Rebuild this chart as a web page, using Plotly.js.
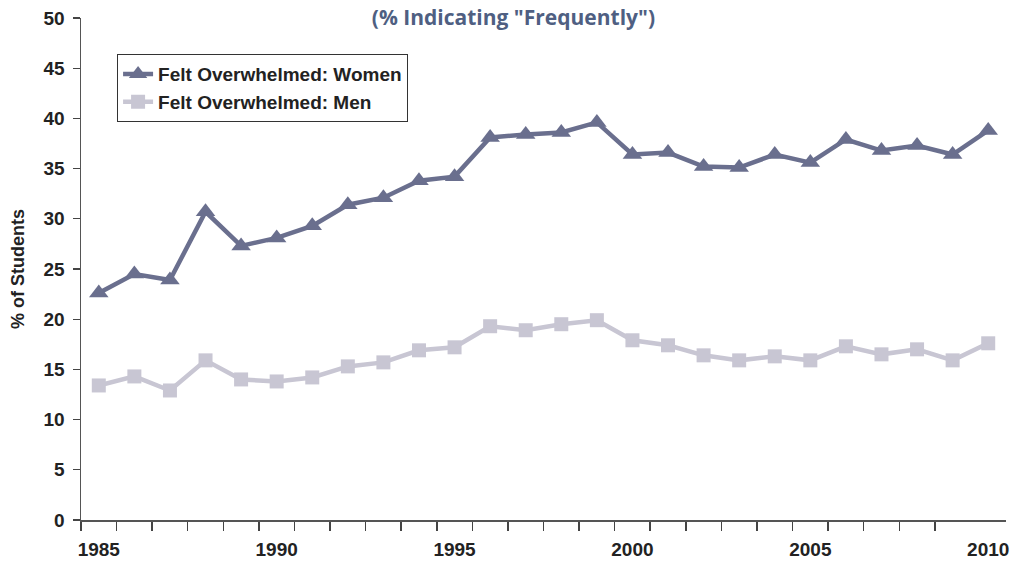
<!DOCTYPE html>
<html>
<head>
<meta charset="utf-8">
<script src="https://cdn.plot.ly/plotly-3.0.1.min.js"></script>
<style>html,body{margin:0;padding:0;background:#fff;}#chart{width:1033px;height:565px;}</style>
</head>
<body>
<div id="chart"></div>
<script>
const years = [1985,1986,1987,1988,1989,1990,1991,1992,1993,1994,1995,1996,1997,1998,1999,2000,2001,2002,2003,2004,2005,2006,2007,2008,2009,2010];
const women = [22.6,24.5,23.9,30.7,27.3,28.1,29.3,31.4,32.1,33.8,34.2,38.1,38.4,38.6,39.6,36.4,36.6,35.2,35.1,36.4,35.6,37.9,36.8,37.3,36.4,38.8];
const men = [13.4,14.3,12.9,15.9,14.0,13.8,14.2,15.3,15.7,16.9,17.2,19.3,18.9,19.5,19.9,17.9,17.4,16.4,15.9,16.3,15.9,17.3,16.5,17.0,15.9,17.6];
const xLabels = ['1985','1990','1995','2000','2005','2010'];
const yTicks = [0,5,10,15,20,25,30,35,40,45,50];
const seriesNames = ['Felt Overwhelmed: Women','Felt Overwhelmed: Men'];
const titleText = '(% Indicating "Frequently")';
const yTitle = '% of Students';

const labelVals = xLabels.map(Number);
const boundaries = years.slice(0, -1).map(y => y - 0.5);

const traces = [
  {x: years, y: women, name: seriesNames[0], type: 'scatter', mode: 'lines+markers',
   line: {color: '#6a6f8e', width: 4.5},
   marker: {symbol: 'triangle-up', size: 17, color: '#6a6f8e'}},
  {x: years, y: men, name: seriesNames[1], type: 'scatter', mode: 'lines+markers',
   line: {color: '#c8c6d3', width: 4.5},
   marker: {symbol: 'square', size: 14, color: '#c8c6d3'}}
];

const ff = 'Liberation Sans, Arial, sans-serif';
const tickFont = {family: ff, size: 19, color: '#222', weight: 'bold'};

const layout = {
  width: 1033, height: 565,
  margin: {l: 81, r: 27, t: 18, b: 45},
  paper_bgcolor: '#fff', plot_bgcolor: '#fff',
  showlegend: true,
  title: {text: titleText, xref: 'container', yref: 'container', x: 0.497, y: 0.982, xanchor: 'center', yanchor: 'top',
    pad: {t: 0},
    font: {family: 'Open Sans, sans-serif', size: 21, color: '#4f5f82', weight: 'bold'}},
  legend: {x: 0.039, y: 0.928, xanchor: 'left', yanchor: 'top',
    bordercolor: '#333', borderwidth: 1, bgcolor: '#fff',
    font: {family: ff, size: 19, color: '#222', weight: 'bold'},
    tracegroupgap: 0, itemwidth: 30},
  xaxis: {range: [1984.5, 2010.5], showgrid: false, zeroline: false,
    showline: true, linecolor: '#555', linewidth: 1.5,
    tickmode: 'array', tickvals: labelVals, ticktext: xLabels, ticks: '', ticklen: 0,
    ticklabelstandoff: 12,
    tickfont: tickFont,
    minor: {tickmode: 'array', tickvals: boundaries, ticks: 'outside', ticklen: 9, tickcolor: '#444', tickwidth: 1.5, showgrid: false},
    fixedrange: true},
  yaxis: {range: [0, 50], showgrid: false, zeroline: false,
    showline: true, linecolor: '#555', linewidth: 1.5,
    tickmode: 'array', tickvals: yTicks, ticks: 'outside', ticklen: 7, tickcolor: '#444', tickwidth: 1.2,
    ticklabelstandoff: 4,
    tickfont: tickFont,
    title: {text: yTitle, font: {family: ff, size: 18, color: '#222', weight: 'bold'}, standoff: 14},
    fixedrange: true}
};

Plotly.newPlot('chart', traces, layout, {displayModeBar: false, staticPlot: true});
</script>
</body>
</html>
